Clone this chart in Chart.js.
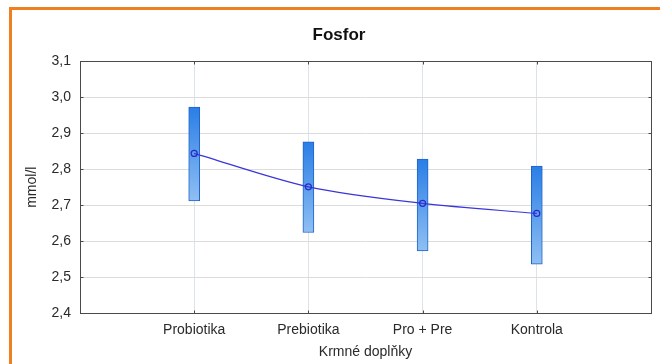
<!DOCTYPE html>
<html>
<head>
<meta charset="utf-8">
<script src="https://cdn.jsdelivr.net/npm/chart.js@4"></script>
<style>
  html, body { margin: 0; padding: 0; background: #fff; }
  #wrap { position: relative; width: 660px; height: 364px; }
  #frame {
    position: absolute; left: 9px; top: 7px; width: 700px; height: 400px;
    border-left: 3px solid #f07f22; border-top: 3px solid #f07f22;
    box-sizing: border-box; pointer-events: none;
  }
</style>
</head>
<body>
<div id="wrap">
  <div id="frame"></div>
  <canvas id="myChart" width="660" height="364"></canvas>
</div>
<script>
const categories = ['Probiotika', 'Prebiotika', 'Pro + Pre', 'Kontrola'];
const means = [2.844, 2.751, 2.705, 2.677];
const lows = [2.712, 2.624, 2.573, 2.536];
const highs = [2.973, 2.876, 2.828, 2.809];
const yTickLabels = ['2,4', '2,5', '2,6', '2,7', '2,8', '2,9', '3,0', '3,1'];

const font = 'Liberation Sans, Arial, sans-serif';

// bars go from low to high, one per category (x = 1..4)
const boxData = categories.map((c, i) => ({ x: i + 1, y: [lows[i], highs[i]] }));
const meanData = categories.map((c, i) => ({ x: i + 1, y: means[i] }));

function boxFill(ctx) {
    const chart = ctx.chart;
    const y = chart.scales.y;
    if (!chart.chartArea || !y || ctx.dataIndex === undefined) return '#5a9ce9';
    const top = y.getPixelForValue(highs[ctx.dataIndex]);
    const bottom = y.getPixelForValue(lows[ctx.dataIndex]);
    const g = chart.ctx.createLinearGradient(0, top, 0, bottom);
    g.addColorStop(0, '#2a7ee6');
    g.addColorStop(1, '#8fbff3');
    return g;
}

// dark box around the plot area, with short ticks pointing inwards
const plotFrame = {
    id: 'plotFrame',
    afterDraw(chart) {
        const a = chart.chartArea;
        const c = chart.ctx;
        const l = Math.round(a.left) + 0.5, r = Math.round(a.right) + 0.5;
        const t = Math.round(a.top) + 0.5, b = Math.round(a.bottom) + 0.5;
        c.save();
        c.strokeStyle = '#4a4a4a';
        c.lineWidth = 1;
        c.strokeRect(l, t, r - l, b - t);
        c.beginPath();
        chart.scales.y.ticks.forEach(tk => {
            const py = Math.round(chart.scales.y.getPixelForValue(tk.value)) + 0.5;
            c.moveTo(l, py); c.lineTo(l + 3, py);
            c.moveTo(r, py); c.lineTo(r - 3, py);
        });
        chart.scales.x.ticks.forEach(tk => {
            const px = Math.round(chart.scales.x.getPixelForValue(tk.value)) + 0.5;
            c.moveTo(px, t); c.lineTo(px, t + 3);
            c.moveTo(px, b); c.lineTo(px, b - 3);
        });
        c.stroke();
        c.restore();
    }
};

const config = {
    data: {
        datasets: [{
            type: 'line',
            data: meanData,
            borderColor: '#3a36d8',
            borderWidth: 1.2,
            tension: 0.3,
            pointRadius: 3,
            pointBorderWidth: 1.2,
            pointBorderColor: '#2a2ac8',
            pointBackgroundColor: 'rgba(255,255,255,0)',
            order: 0
        }, {
            type: 'bar',
            data: boxData,
            backgroundColor: boxFill,
            borderColor: '#1f63c8',
            borderWidth: 1,
            borderSkipped: false,
            barThickness: 11,
            order: 1
        }]
    },
    options: {
        responsive: false,
        animation: false,
        layout: { padding: { left: 24, right: 6, top: 0, bottom: 0 } },
        plugins: {
            legend: { display: false },
            tooltip: { enabled: false },
            title: {
                display: true,
                text: 'Fosfor',
                color: '#111',
                font: { family: font, size: 17, weight: 'bold' },
                padding: { top: 25, bottom: 16 }
            }
        },
        scales: {
            x: {
                type: 'linear',
                min: 0,
                max: 5,
                offset: false,
                afterFit: (s) => { s.height = 51; },
                afterBuildTicks: (s) => {
                    s.ticks = [0, 1, 2, 3, 4, 5].map(v => ({ value: v }));
                },
                ticks: {
                    autoSkip: false,
                    maxRotation: 0,
                    padding: 9,
                    color: '#2a2a2a',
                    font: { family: font, size: 14 },
                    callback: (v) => categories[v - 1] || ''
                },
                grid: { color: '#dde3ea', drawTicks: false, offset: false },
                border: { display: false },
                title: {
                    display: true,
                    text: 'Krmné doplňky',
                    color: '#2a2a2a',
                    font: { family: font, size: 14 },
                    padding: { top: 0, bottom: 3 }
                }
            },
            y: {
                min: 2.4,
                max: 3.1,
                afterFit: (s) => { s.width = 56; },
                ticks: {
                    stepSize: 0.1,
                    padding: 9,
                    color: '#2a2a2a',
                    font: { family: font, size: 14 },
                    callback: (v) => yTickLabels[Math.round((v - 2.4) * 10)]
                },
                grid: { color: '#dcdcdc', drawTicks: false },
                border: { display: false },
                title: {
                    display: true,
                    text: 'mmol/l',
                    color: '#2a2a2a',
                    font: { family: font, size: 14 },
                    padding: { top: 0, bottom: 0 }
                }
            }
        }
    },
    plugins: [plotFrame]
};

const myChart = new Chart(document.getElementById('myChart'), config);
</script>
</body>
</html>
